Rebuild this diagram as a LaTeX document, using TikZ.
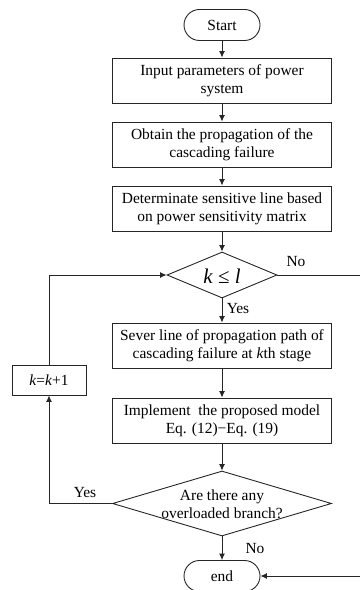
\documentclass[tikz,border=0pt]{standalone}
\usepackage{fontspec}
\setmainfont{Liberation Serif}
\usetikzlibrary{shapes.geometric,arrows.meta}
\begin{document}
\begin{tikzpicture}[x=1bp,y=-1bp,
  every node/.style={font=\fontsize{15.5}{18}\selectfont, align=center, inner sep=0pt},
  wire/.style={draw=black!85, line width=0.9bp},
  flow/.style={wire, -{Latex[length=6.5bp,width=6bp]}},
  procbox/.style={wire, rectangle, minimum width=219bp, minimum height=45bp},
  term/.style={wire, rectangle, rounded corners=15.5bp, minimum width=76bp, minimum height=31bp},
  decide/.style={wire, diamond, inner sep=0pt}]
  \useasboundingbox (0,0) rectangle (359,590);

  % main column
  \node[term] (start) at (222,25) {Start};
  \node[procbox] (b1) at (222,80.5) {Input parameters of power\\system};
  \node[procbox] (b2) at (222,144.5) {Obtain the propagation of the\\cascading failure};
  \node[procbox] (b3) at (222,208.5) {Determinate sensitive line based\\on power sensitivity matrix};
  \node[decide, minimum width=110bp, minimum height=46bp] (d1) at (222,275) {};
  \node (d1txt) at (222,276) {\fontsize{21}{24}\selectfont\textit{k} ≤ \textit{l}};
  \node[procbox] (b4) at (222,345.5) {Sever line of propagation path of\\cascading failure at \textit{k}th stage};
  \node[procbox] (b5) at (222,420.5) {Implement\ \ the proposed model\\Eq. (12)−Eq. (19)};
  \node[decide, minimum width=219bp, minimum height=65bp] (d2) at (222,503.5) {};
  \node (d2txt) at (222,504) {Are there any\\overloaded branch?};
  \node[term] (stop) at (222,576) {end};

  % loop counter
  \node[procbox, minimum width=74bp, minimum height=30bp] (kk) at (49,380) {\textit{k}=\textit{k}+1};

  % branch labels
  \node (yes1) at (238,309) {Yes};
  \node (no1) at (296,262) {No};
  \node (yes2) at (85,493) {Yes};
  \node (no2) at (255,549) {No};

  % connectors
  \draw[flow] (start) -- (b1);
  \draw[flow] (b1) -- (b2);
  \draw[flow] (b2) -- (b3);
  \draw[flow] (b3) -- (d1.north);
  \draw[flow] (d1.south) -- (b4);
  \draw[flow] (b4) -- (b5);
  \draw[flow] (b5) -- (d2.north);
  \draw[flow] (d2.south) -- (stop);
  \coordinate (rb) at (362,576);
  \draw[flow] (d1.east) -| (rb) -- (stop.east);
  \draw[flow] (d2.west) -| (kk.south);
  \draw[flow] (kk.north) |- (d1.west);
\end{tikzpicture}
\end{document}
